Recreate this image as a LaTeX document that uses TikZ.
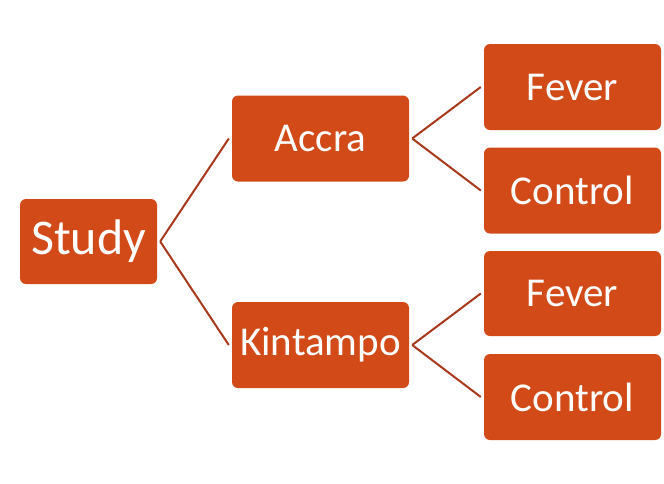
\documentclass[tikz,border=0pt]{standalone}
\usepackage{fontspec}
\setmainfont{Carlito}
\definecolor{boxfill}{HTML}{D24A18}
\definecolor{linkcol}{HTML}{A8391B}
\begin{document}
\begin{tikzpicture}[x=1pt,y=-1pt,
  box/.style={draw=none,fill=boxfill,rounded corners=6pt,text=white,inner sep=0pt,
    minimum width=#1,anchor=center},
  link/.style={draw=linkcol,line width=2pt}]
\useasboundingbox[fill=white] (0,0) rectangle (664,483);
\node[box=137pt,minimum height=85pt,font=\fontsize{50}{50}\selectfont] (study) at (88.5,241.5) {Study};
\node[box=177pt,minimum height=86pt,font=\fontsize{41}{41}\selectfont] (accra) at (320.5,138.5) {Accra};
\node[box=177pt,minimum height=86pt,font=\fontsize{41}{41}\selectfont] (kin) at (320.5,345) {Kintampo};
\node[box=177pt,minimum height=86pt,font=\fontsize{41}{41}\selectfont] (f1) at (572.5,87) {Fever};
\node[box=177pt,minimum height=86pt,font=\fontsize{41}{41}\selectfont] (c1) at (572.5,190.5) {Control};
\node[box=177pt,minimum height=85pt,font=\fontsize{41}{41}\selectfont] (f2) at (572.5,293.5) {Fever};
\node[box=177pt,minimum height=86pt,font=\fontsize{41}{41}\selectfont] (c2) at (572.5,397) {Control};
\draw[link] ([xshift=3pt]study.east) -- ([xshift=-3pt]accra.west);
\draw[link] ([xshift=3pt]study.east) -- ([xshift=-3pt]kin.west);
\draw[link] ([xshift=3pt]accra.east) -- ([xshift=-3pt]f1.west);
\draw[link] ([xshift=3pt]accra.east) -- ([xshift=-3pt]c1.west);
\draw[link] ([xshift=3pt]kin.east) -- ([xshift=-3pt]f2.west);
\draw[link] ([xshift=3pt]kin.east) -- ([xshift=-3pt]c2.west);
\end{tikzpicture}
\end{document}
